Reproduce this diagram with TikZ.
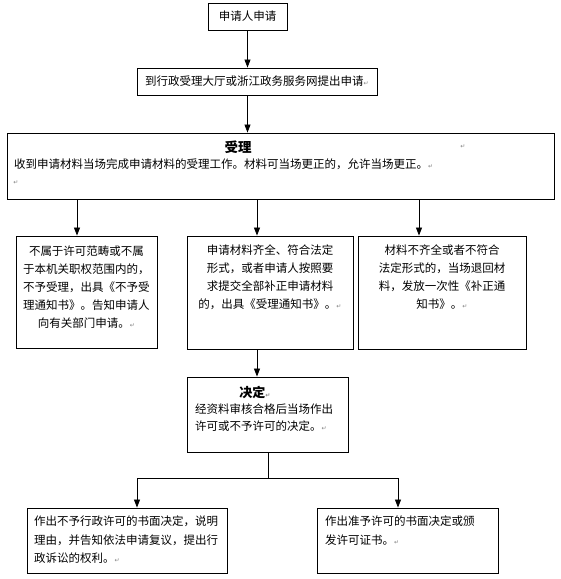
\documentclass[tikz,border=0pt]{standalone}
\usepackage{fontspec}
\setmainfont{Noto Sans CJK SC}
\newfontfamily\markfont{DejaVu Sans}
\usetikzlibrary{arrows.meta,positioning,calc}

% little return mark as printed after each paragraph
\newcommand{\pmk}{{\markfont\fontsize{6}{6}\selectfont\color{gray}↵}}

\begin{document}
\begin{tikzpicture}[x=1pt,y=-1pt,
    box/.style={draw,line width=0.9pt,inner sep=0pt},
    txt/.style={inner sep=0pt,font=\fontsize{11.5}{18}\selectfont},
    arr/.style={-{Triangle[width=6pt,length=8pt]},line width=0.8pt}]
  \useasboundingbox (0,0) rectangle (561,579);
  % boxes
  \node[box,minimum width=79pt,minimum height=27pt,txt] (apply) at (247.5,16.5) {申请人申请};
  \node[box,minimum width=240pt,minimum height=27pt,txt] (hall) at (257,81.5) {到行政受理大厅或浙江政务服务网提出申请\pmk};
  \node[box,minimum width=547pt,minimum height=66pt] (accept) at (280.5,166) {};
  \node[box,minimum width=141pt,minimum height=112pt] (refuse) at (86.5,292) {};
  \node[box,minimum width=166pt,minimum height=113pt] (admit) at (270,292.5) {};
  \node[box,minimum width=168pt,minimum height=113pt] (back) at (442,292.5) {};
  \node[box,minimum width=161pt,minimum height=75pt] (decide) at (267.5,414.5) {};
  \node[box,minimum width=200pt,minimum height=65pt] (deny) at (127,540.5) {};
  \node[box,minimum width=181pt,minimum height=65pt] (grant) at (407.5,540.5) {};
  % texts
  \node[txt,font=\bfseries\fontsize{13.5}{16}\selectfont] (acceptT) at (238,147) {受理};
  \node[inner sep=0pt] (acceptM) at (463,147) {\pmk};
  \node[txt,anchor=west] (acceptL) at (14,164) {收到申请材料当场完成申请材料的受理工作。材料可当场更正的，允许当场更正。\pmk};
  \node[inner sep=0pt] (acceptN) at (16,183) {\pmk};
  \node[txt,align=center,anchor=north] (refuseT) at ($(refuse.north)+(0,10)$)
    {不属于许可范畴或不属\\于本机关职权范围内的，\\不予受理，出具《不予受\\理通知书》。告知申请人\\向有关部门申请。\pmk};
  \node[txt,align=center,anchor=north] (admitT) at ($(admit.north)+(0,9)$)
    {申请材料齐全、符合法定\\形式，或者申请人按照要\\求提交全部补正申请材料\\的，出具《受理通知书》。\pmk};
  \node[txt,align=center,anchor=north] (backT) at ($(back.north)+(0,9)$)
    {材料不齐全或者不符合\\法定形式的，当场退回材\\料，发放一次性《补正通\\知书》。\pmk};
  \node[txt,font=\bfseries\fontsize{13}{16}\selectfont] (decideT) at (255,392) {决定\pmk};
  \node[txt,align=left,anchor=north west,font=\fontsize{11.5}{17}\selectfont] (decideL) at (195,404)
    {经资料审核合格后当场作出\\许可或不予许可的决定。\pmk};
  \node[txt,align=left,anchor=north west,font=\fontsize{11.5}{18.5}\selectfont] (denyT) at (34,516)
    {作出不予行政许可的书面决定，说明\\理由，并告知依法申请复议，提出行\\政诉讼的权利。\pmk};
  \node[txt,align=left,anchor=north west,font=\fontsize{11.5}{18.5}\selectfont] (grantT) at (325,516)
    {作出准予许可的书面决定或颁\\发许可证书。\pmk};
  % connectors
  \coordinate (xA) at (77,0);
  \coordinate (xB) at (257,0);
  \coordinate (xC) at (419,0);
  \coordinate (fork) at (268,478);
  \coordinate (forkL) at (137,478);
  \coordinate (forkR) at (398,478);
  \draw[arr] (apply.south) -- (apply.south |- hall.north);
  \draw[arr] (hall.south -| apply) -- (accept.north -| apply);
  \foreach \x/\t in {xA/refuse,xB/admit,xC/back}
    \draw[arr] (accept.south -| \x) -- (\t.north -| \x);
  \draw[arr] (admit.south -| xB) -- (decide.north -| xB);
  \draw[line width=0.8pt] (decide.south -| fork) -- (fork);
  \draw[line width=0.8pt] (forkL) -- (forkR);
  \draw[arr] (forkL) -- (deny.north -| forkL);
  \draw[arr] (forkR) -- (grant.north -| forkR);
\end{tikzpicture}
\end{document}
